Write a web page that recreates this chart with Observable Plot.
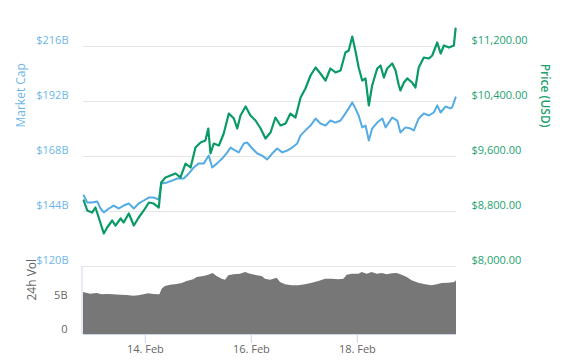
<!DOCTYPE html>
<html>
<head>
<meta charset="utf-8">
<script src="https://cdn.jsdelivr.net/npm/d3@7"></script>
<script src="https://cdn.jsdelivr.net/npm/@observablehq/plot@0.6"></script>
<style>
  html, body { margin: 0; padding: 0; background: #fff; }
  #chart { position: relative; width: 563px; height: 363px; overflow: hidden; }
  #chart svg { position: absolute; left: 0; top: 0; }
</style>
</head>
<body>
<div id="chart"></div>
<script>
// ---- data (hours since 2018-02-12 20:00 UTC) ----
const startTime = Date.UTC(2018, 1, 12, 20);
const spanHours = 168.9;

const priceHours = [0.1,1.7,3.9,5.4,6.9,9.2,10.7,13.0,14.5,16.8,
  18.2,20.5,22.8,25.0,27.3,29.6,31.8,34.1,35.2,37.1,
  39.4,41.7,43.9,46.2,48.5,50.7,53.0,55.2,56.5,57.5,
  59.0,61.3,63.5,65.8,68.1,69.6,71.1,73.4,75.6,77.9,
  80.2,82.4,84.7,86.9,89.2,91.5,93.7,96.0,98.3,100.5,
  102.8,105.1,107.3,109.6,111.8,114.1,116.4,118.6,120.1,121.7,
  123.1,124.6,126.2,127.7,129.2,130.7,133.0,134.5,136.0,137.5,
  139.8,141.3,142.8,143.5,145.1,146.6,148.8,150.3,151.8,154.1,
  156.4,157.9,160.2,161.7,163.2,165.5,167.7,168.5];
const priceValues = [8960,8815,8785,8858,8713,8480,8567,8669,8596,8698,
  8640,8771,8596,8713,8815,8931,8916,8858,9222,9295,
  9324,9353,9295,9498,9440,9731,9804,9833,10007,9644,
  9789,9760,9935,10225,10153,10007,10196,10327,10196,10124,
  10007,9862,9949,10167,10051,10080,10225,10167,10458,10589,
  10778,10895,10807,10705,10880,10822,10851,11113,11142,11345,
  11142,10895,10705,10735,10342,10633,10880,10924,10749,10880,
  10953,10851,10633,10560,10676,10735,10676,10604,10895,11040,
  11025,11069,11258,11098,11215,11185,11215,11462];

const capHours = [0.1,1.7,3.9,6.2,7.7,9.2,11.5,13.7,16.0,18.2,
  20.5,22.8,25.0,27.3,29.6,31.8,34.1,35.2,37.9,40.2,
  42.4,45.4,47.7,49.9,52.2,54.5,56.7,58.3,60.5,62.8,
  65.1,66.6,68.8,70.3,72.6,74.1,76.4,78.7,80.9,83.2,
  85.4,87.7,90.0,92.2,94.5,96.8,98.3,100.5,102.8,105.1,
  107.3,109.6,111.8,114.1,116.4,118.6,120.1,121.7,123.1,124.6,
  126.2,127.7,129.2,130.7,133.0,135.3,136.8,139.8,142.1,143.5,
  145.8,148.1,149.6,151.8,154.1,156.4,158.6,160.2,161.7,163.9,
  166.2,166.9,168.5];
const capValues = [151.0,147.9,147.9,148.4,145.3,143.6,145.3,146.6,145.3,146.6,
  147.5,145.3,147.5,148.8,150.1,150.1,149.2,156.2,156.7,157.5,
  158.4,158.4,160.6,163.2,165.0,165.0,168.4,163.2,165.0,167.1,
  169.8,171.9,170.6,169.8,173.7,174.1,171.5,169.3,168.4,166.7,
  169.3,171.5,169.8,170.6,171.9,173.7,177.2,179.4,181.5,184.6,
  182.4,181.5,183.7,182.8,183.7,186.8,189.0,191.6,189.0,185.9,
  180.7,181.5,175.0,180.2,182.8,184.6,180.7,185.0,183.7,178.5,
  180.7,180.2,179.4,184.6,186.8,185.9,187.2,190.3,187.2,189.8,
  189.0,189.4,193.8];

const volHours = [0,3.2,6.2,8.5,10.7,13.7,16.8,19.8,22.8,25.0,
  27.3,29.6,31.8,34.6,35.6,37.1,39.4,42.4,44.7,46.9,
  49.9,51.5,54.5,56.7,58.7,60.5,62.8,64.3,65.8,68.1,
  71.1,73.4,75.6,78.7,80.9,82.4,84.7,87.7,89.2,91.5,
  94.5,97.5,100.5,103.6,106.6,109.6,112.6,115.6,117.9,119.4,
  121.7,124.7,126.2,128.5,130.7,133.0,135.3,137.5,139.8,142.1,
  144.3,146.6,148.8,151.8,154.9,157.9,160.2,162.4,165.4,168.1,168.9];
const volValues = [6.18,5.93,6.03,5.84,5.88,5.84,5.78,5.74,5.63,5.69,
  5.84,5.99,5.88,5.84,6.66,7.06,7.25,7.35,7.50,7.79,
  8.04,8.38,8.53,8.72,8.97,8.53,8.13,7.99,8.63,8.78,
  8.87,9.12,8.87,8.63,8.53,8.13,7.99,8.28,7.65,7.31,
  7.16,7.16,7.31,7.54,7.79,8.13,8.13,8.04,8.13,8.72,
  8.87,8.87,9.12,8.87,9.12,8.87,8.97,8.78,8.93,8.97,
  8.72,8.38,7.90,7.54,7.31,7.16,7.31,7.50,7.54,7.65,7.90];

const capTicks = [120, 144, 168, 192, 216];           // $B
const priceTicks = [8000, 8800, 9600, 10400, 11200];  // USD
const volTicks = [0, 5];
const volTickLabels = ["0", "5B"];
const xTickDays = [14, 16, 18];
const xTickLabels = ["14. Feb", "16. Feb", "18. Feb"];

// ---- build tables ----
const toDate = h => new Date(startTime + h * 3600e3);
const priceRows = priceHours.map((h, i) => ({date: toDate(h), price: priceValues[i]}));
const capRows = capHours.map((h, i) => ({date: toDate(h), cap: capValues[i]}));
const volRows = volHours.map((h, i) => ({date: toDate(h), vol: volValues[i]}));
const xDomain = [toDate(0), toDate(spanHours)];
const xTicks = xTickDays.map(d => new Date(Date.UTC(2018, 1, d)));

// price axis shares the market-cap gridlines
const capLo = capTicks[0], capHi = capTicks[capTicks.length - 1];
const pLo = priceTicks[0], pHi = priceTicks[priceTicks.length - 1];
const priceToCap = p => capLo + (p - pLo) * (capHi - capLo) / (pHi - pLo);
const fmtPrice = d3.format(",.2f");

const blueLine = "#55abe4", blueText = "#6db7e8";
const greenLine = "#0a9a65", greenText = "#1ea26f";
const baseStyle = {fontFamily: "'Open Sans', sans-serif", fontSize: "11px", background: "transparent", overflow: "visible"};

const main = Plot.plot({
  width: 563, height: 363,
  marginTop: 46, marginBottom: 97, marginLeft: 83, marginRight: 107,
  style: baseStyle,
  x: {type: "utc", domain: xDomain, axis: null, label: null},
  y: {domain: [capLo, capHi], axis: null, label: null},
  marks: [
    Plot.gridY(capTicks, {stroke: "#e6e6e6", strokeOpacity: 1, strokeWidth: 1}),
    Plot.axisY(capTicks, {anchor: "left", label: null, tickSize: 0, tickPadding: 15, dy: -6,
      tickFormat: d => `$${d}B`, color: blueText}),
    Plot.axisY(capTicks, {anchor: "right", label: null, tickSize: 0, tickPadding: 15, dy: -6,
      tickFormat: d => "$" + fmtPrice(priceTicks[capTicks.indexOf(d)]), color: greenText}),
    Plot.lineY(capRows, {x: "date", y: "cap", stroke: blueLine, strokeWidth: 2}),
    Plot.lineY(priceRows, {x: "date", y: d => priceToCap(d.price), stroke: greenLine, strokeWidth: 2.2}),
    Plot.text(["Market Cap"], {text: d => d, frameAnchor: "left", dx: -62, dy: -29, rotate: -90, fill: blueText, fontSize: 12}),
    Plot.text(["Price (USD)"], {text: d => d, frameAnchor: "right", dx: 88, dy: -29, rotate: 90, fill: greenText, fontSize: 12, fontWeight: 600})
  ]
});

const vol = Plot.plot({
  width: 563, height: 363,
  marginTop: 266, marginBottom: 29, marginLeft: 83, marginRight: 107,
  style: baseStyle,
  x: {type: "utc", domain: xDomain, axis: null, label: null},
  y: {domain: [0, 10], axis: null, label: null},
  marks: [
    Plot.areaY(volRows, {x: "date", y: "vol", fill: "#777777"}),
    Plot.ruleY([0], {stroke: "#ccd6eb", strokeWidth: 1}),
    Plot.ruleX([xDomain[0]], {stroke: "#ccd6eb", strokeWidth: 1, dx: -1.5}),
    Plot.axisY(volTicks, {anchor: "left", label: null, tickSize: 0, tickPadding: 16, dy: -5,
      tickFormat: d => volTickLabels[volTicks.indexOf(d)], color: "#666"}),
    Plot.axisX(xTicks, {anchor: "bottom", label: null, tickSize: 9, tickPadding: 2,
      tickFormat: d => xTickLabels[xTickDays.indexOf(d.getUTCDate())], stroke: "#ccd6eb", fill: "#666", strokeOpacity: 1}),
    Plot.text(["24h Vol"], {text: d => d, frameAnchor: "left", dx: -51, rotate: -90, fill: "#666", fontSize: 12})
  ]
});

const el = document.getElementById("chart");
el.appendChild(main);
el.appendChild(vol);
</script>
</body>
</html>
